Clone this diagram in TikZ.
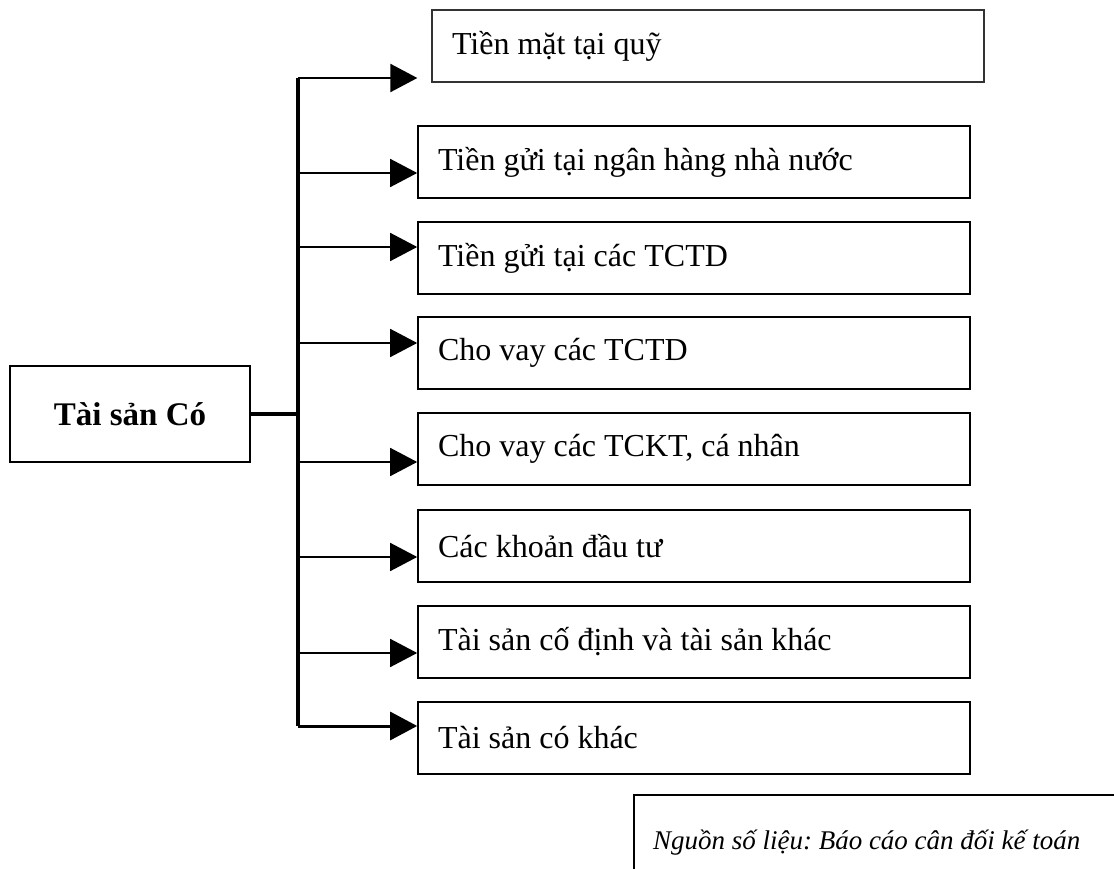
\documentclass[tikz,border=0pt]{standalone}
\usepackage{fontspec}
\setmainfont{Liberation Serif}
\usepackage{tikz}
\usetikzlibrary{arrows.meta,positioning}

\begin{document}
\begin{tikzpicture}[
    x=1pt, y=-1pt,
    item/.style={rectangle, draw, line width=1.6pt, minimum height=72pt, text width=512pt, inner xsep=20pt, align=flush left, font=\fontsize{32}{38}\selectfont},
    root/.style={rectangle, draw, line width=2pt, minimum width=240pt, minimum height=96pt, font=\fontsize{33}{38}\selectfont\bfseries},
    note/.style={rectangle, draw, line width=2pt, minimum width=480pt, minimum height=96pt, text width=460pt, inner xsep=19pt, align=flush left, font=\fontsize{27}{32}\selectfont\itshape\frenchspacing},
    bus/.style={line width=3.2pt},
    arrow/.style={-{Triangle[length=27pt, width=28pt]}, line width=1.6pt}
]
    \useasboundingbox (0,0) rectangle (1114,869);
    \clip (0,0) rectangle (1114,869);

    % Root
    \node[root] (root) at (130,414) {Tài sản Có};

    % Items
    \node[item, line width=1.3pt, draw=black!80] (t1) at (708,46) {Tiền mặt tại quỹ};
    \node[item] (t2) at (694,162) {Tiền gửi tại ngân hàng nhà nước};
    \node[item] (t3) at (694,258) {Tiền gửi tại các TCTD};
    \node[item] (t4) at (694,353) {Cho vay các TCTD};
    \node[item] (t5) at (694,449) {Cho vay các TCKT, cá nhân};
    \node[item] (t6) at (694,546) {Các khoản đầu tư};
    \node[item] (t7) at (694,642) {Tài sản cố định và tài sản khác};
    \node[item] (t8) at (694,738) {Tài sản có khác};

    % Bus
    \coordinate (b1) at (298,78);
    \coordinate (b2) at (298,173);
    \coordinate (b3) at (298,247);
    \coordinate (b4) at (298,343);
    \coordinate (b5) at (298,462);
    \coordinate (b6) at (298,557);
    \coordinate (b7) at (298,653);
    \coordinate (b8) at (298,726);
    \draw[bus] (b1) -- (b8);
    \draw[bus] (root.east) -- (root.east -| b1);

    % Arrows
    \draw[arrow, line width=2.2pt, shorten >=14pt] (b1) -- (b1 -| t1.west);
    \foreach \i in {2,...,7}
        \draw[arrow] (b\i) -- (b\i -| t\i.west);
    \draw[arrow, line width=3pt] (b8) -- (b8 -| t8.west);

    % Source
    \node[note, anchor=north west] (src) at (633,794) {Nguồn số liệu: Báo cáo cân đối kế toán};
\end{tikzpicture}
\end{document}
